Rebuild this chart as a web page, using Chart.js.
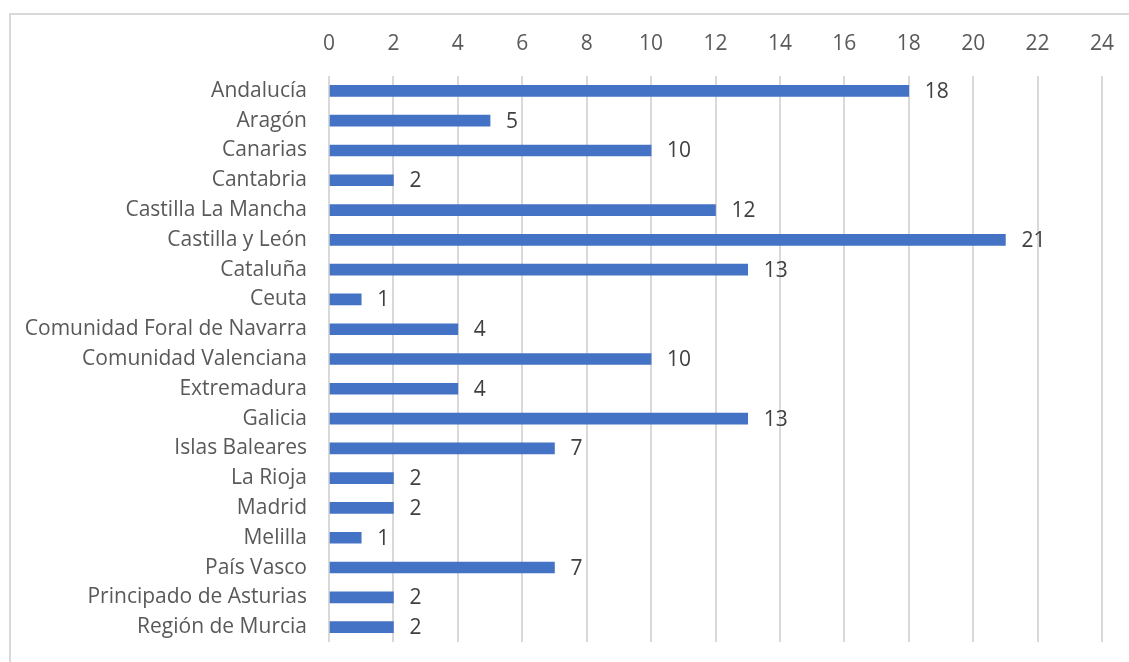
<!DOCTYPE html>
<html>
<head>
<meta charset="utf-8">
<script src="https://cdn.jsdelivr.net/npm/chart.js@4/dist/chart.umd.min.js"></script>
<style>
  html, body { margin: 0; padding: 0; background: #fff; overflow: hidden; }
  #frame {
    position: absolute; left: 9px; top: 13px; width: 1300px; height: 800px;
    border: 2px solid #d9d9d9; box-sizing: border-box;
  }
  #chart { position: absolute; left: 0; top: 0; }
</style>
</head>
<body>
<div id="frame"></div>
<canvas id="chart" width="1129" height="662"></canvas>
<script>
const regions = [
  "Andalucía", "Aragón", "Canarias", "Cantabria", "Castilla La Mancha",
  "Castilla y León", "Cataluña", "Ceuta", "Comunidad Foral de Navarra",
  "Comunidad Valenciana", "Extremadura", "Galicia", "Islas Baleares",
  "La Rioja", "Madrid", "Melilla", "País Vasco", "Principado de Asturias",
  "Región de Murcia",
];
const counts = [18, 5, 10, 2, 12, 21, 13, 1, 4, 10, 4, 13, 7, 2, 2, 1, 7, 2, 2];

const axisMin = 0;
const axisMax = 24;
const axisStep = 2;

const FONT = "'Open Sans', sans-serif";
const FONT_SIZE = 21;

// value labels drawn at the end of each bar
const barLabels = {
  id: "barLabels",
  afterDatasetsDraw(chart) {
    const ctx = chart.ctx;
    const meta = chart.getDatasetMeta(0);
    ctx.save();
    ctx.font = FONT_SIZE + "px " + FONT;
    ctx.fillStyle = "#404040";
    ctx.textAlign = "left";
    ctx.textBaseline = "middle";
    meta.data.forEach((bar, i) => {
      ctx.fillText(String(counts[i]), bar.x + 16, bar.y + 1);
    });
    ctx.restore();
  },
};

new Chart(document.getElementById("chart"), {
  type: "bar",
  data: {
    labels: regions,
    datasets: [{
      data: counts,
      backgroundColor: "#4472C4",
      borderWidth: 0,
      barThickness: 11,
    }],
  },
  options: {
    indexAxis: "y",
    responsive: false,
    animation: false,
    layout: { padding: { left: 0, top: 0, right: 27, bottom: 20 } },
    plugins: {
      legend: { display: false },
      tooltip: { enabled: false },
    },
    scales: {
      x: {
        position: "top",
        min: axisMin,
        max: axisMax,
        ticks: {
          stepSize: axisStep,
          color: "#595959",
          font: { family: FONT, size: FONT_SIZE },
          padding: 19,
        },
        grid: { color: "#d9d9d9", lineWidth: 2, drawTicks: false },
        border: { display: false },
        afterFit: (s) => { s.height = 76; s.paddingLeft = 0; s.paddingRight = 0; },
      },
      y: {
        ticks: {
          color: "#595959",
          font: { family: FONT, size: FONT_SIZE },
          padding: 22,
          autoSkip: false,
        },
        grid: { display: false, drawTicks: false },
        border: { display: false },
        afterFit: (s) => { s.width = 329; s.paddingTop = 0; s.paddingBottom = 0; },
      },
    },
  },
  plugins: [barLabels],
});
</script>
</body>
</html>
